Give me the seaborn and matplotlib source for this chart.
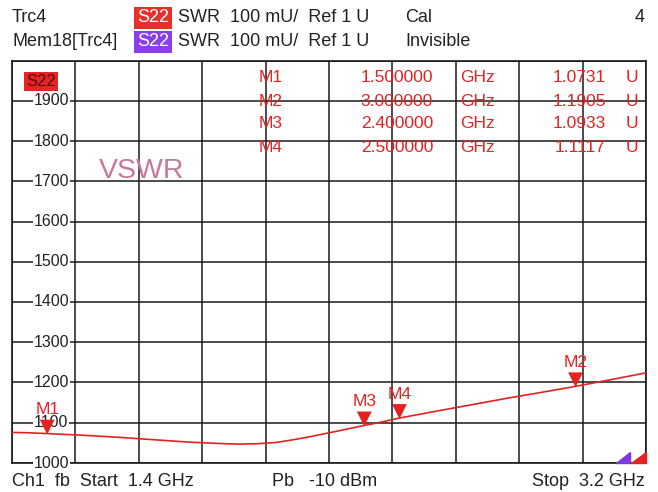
import matplotlib
matplotlib.use("Agg")
import matplotlib.pyplot as plt
import matplotlib.transforms as mtransforms
from matplotlib.patches import Polygon
import seaborn as sns
import pandas as pd

# ---- data ----
freq_ghz = [1.40, 1.45, 1.50, 1.55, 1.60, 1.70, 1.80, 1.90, 2.00, 2.05, 2.10, 2.15,
            2.20, 2.25, 2.30, 2.35, 2.40, 2.45, 2.50, 2.60, 2.70, 2.80, 2.90, 3.00,
            3.10, 3.20]
swr_mu = [1076, 1075, 1073.1, 1071, 1069, 1064, 1058, 1052, 1048, 1047, 1048, 1051,
          1058, 1066, 1075, 1084, 1093.3, 1102, 1111.7, 1128, 1144, 1160, 1175, 1190.5,
          1207, 1224]
marker_names = ["M1", "M2", "M3", "M4"]
marker_freqs = [1.5, 3.0, 2.4, 2.5]
marker_vals = [1.0731, 1.1905, 1.0933, 1.1117]
y_tick_labels = [1000, 1100, 1200, 1300, 1400, 1500, 1600, 1700, 1800, 1900]
x_start, x_stop = 1.4, 3.2
y_min, y_max = 1000, 2000

sns.set_style("white")
plt.rcParams["font.family"] = ["Liberation Sans", "DejaVu Sans"]

W, H = 658, 492
fig = plt.figure(figsize=(W / 100, H / 100), dpi=100)
fig.patch.set_facecolor("white")
L, R, T, B = 12, 646, 60.5, 463
ax = fig.add_axes([L / W, 1 - B / H, (R - L) / W, (B - T) / H])

def px(x, y):
    return (x / W, 1 - y / H)

RED = "#e32222"
TXT = "#222222"

df = pd.DataFrame({"freq": freq_ghz, "swr": swr_mu})
sns.lineplot(data=df, x="freq", y="swr", ax=ax, color=RED, linewidth=1.2, zorder=4)

ax.set_xlim(x_start, x_stop)
ax.set_ylim(y_min, y_max)
ndiv = 10
ax.set_xticks([x_start + i * (x_stop - x_start) / ndiv for i in range(ndiv + 1)])
ax.set_yticks([y_min + i * (y_max - y_min) / ndiv for i in range(ndiv + 1)])
ax.grid(True, color="#1a1a1a", linewidth=1.1)
ax.tick_params(length=0, labelbottom=False, labelleft=False)
ax.set_xlabel("")
ax.set_ylabel("")
for s in ax.spines.values():
    s.set_color("#1a1a1a")
    s.set_linewidth(1.2)

# y labels inside the plot
for v in y_tick_labels:
    ax.text(0.034, v, str(v), transform=ax.get_yaxis_transform(), ha="left", va="center",
            fontsize=11.5, color=TXT, zorder=3,
            bbox=dict(facecolor="white", edgecolor="none", pad=0.6))

# markers
mk_y = [v * 1000 for v in marker_vals]
tri_trans = mtransforms.offset_copy(ax.transData, fig=fig, x=0, y=6.5, units="dots")
ax.scatter(marker_freqs, mk_y, marker="v", s=115, color=RED, edgecolor="none",
           transform=tri_trans, zorder=6)
for n, f, y in zip(marker_names, marker_freqs, mk_y):
    ax.annotate(n, (f, y), xytext=(0, 24), textcoords="offset pixels", ha="center",
                va="center", fontsize=12.5, color=RED, zorder=6)

# S22 tag in plot
fig.text(*px(26, 81), "S22", fontsize=12, color="#5a0a0a", ha="left", va="center",
         bbox=dict(facecolor="#e52525", edgecolor="none", pad=1.5))
# VSWR label
fig.text(*px(99, 171), "VSWR", fontsize=20.5, color="#c77a98", ha="left", va="center")

# marker table
rows_y = [78, 101, 124, 148]
for n, f, v, y in zip(marker_names, marker_freqs, marker_vals, rows_y):
    fig.text(*px(259, y), n, fontsize=12.5, color=RED, ha="left", va="center")
    fig.text(*px(433, y), f"{f:.6f}", fontsize=12.5, color=RED, ha="right", va="center")
    fig.text(*px(460, y), "GHz", fontsize=12.5, color=RED, ha="left", va="center")
    fig.text(*px(606, y), f"{v:.4f}", fontsize=12.5, color=RED, ha="right", va="center")
    fig.text(*px(626, y), "U", fontsize=12.5, color=RED, ha="left", va="center")

# header
hfs = 13
fig.text(*px(12, 18), "Trc4", fontsize=hfs, color=TXT, va="center")
fig.text(*px(137, 18), "S22", fontsize=hfs, color="white", va="center",
         bbox=dict(facecolor="#e8302a", edgecolor="none", pad=2))
fig.text(*px(178, 18), "SWR  100 mU/  Ref 1 U", fontsize=hfs, color=TXT, va="center")
fig.text(*px(405, 18), "Cal", fontsize=hfs, color=TXT, va="center")
fig.text(*px(645, 18), "4", fontsize=hfs, color=TXT, va="center", ha="right")
fig.text(*px(12, 42), "Mem18[Trc4]", fontsize=hfs, color=TXT, va="center")
fig.text(*px(137, 42), "S22", fontsize=hfs, color="white", va="center",
         bbox=dict(facecolor="#8a3ef0", edgecolor="none", pad=2))
fig.text(*px(178, 42), "SWR  100 mU/  Ref 1 U", fontsize=hfs, color=TXT, va="center")
fig.text(*px(405, 42), "Invisible", fontsize=hfs, color=TXT, va="center")

# footer
fig.text(*px(12, 481), "Ch1  fb  Start  1.4 GHz", fontsize=hfs, color=TXT, va="center")
fig.text(*px(272, 481), "Pb   -10 dBm", fontsize=hfs, color=TXT, va="center")
fig.text(*px(645, 481), "Stop  3.2 GHz", fontsize=hfs, color=TXT, va="center", ha="right")

# reference position indicators
ax.add_patch(Polygon([(0.953, 0.0), (0.975, 0.0), (0.975, 0.028)], closed=True,
                     transform=ax.transAxes, color="#7a3ae0", zorder=5, clip_on=False))
ax.add_patch(Polygon([(0.977, 0.0), (1.0, 0.0), (1.0, 0.028)], closed=True,
                     transform=ax.transAxes, color=RED, zorder=5, clip_on=False))

fig.savefig("out.png", dpi=100, facecolor="white")
